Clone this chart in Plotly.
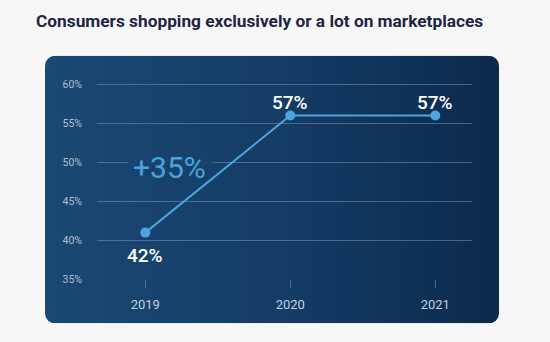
import base64
import plotly.graph_objects as go

# ---- data ----
years = [2019, 2020, 2021]
share_plotted = [41, 56, 56]          # position of points as drawn
share_labels = ["42%", "57%", "57%"]  # labels shown on the chart
label_side = ["below", "above", "above"]
y_ticks = [35, 40, 45, 50, 55, 60]
y_tick_text = ["35%", "40%", "45%", "50%", "55%", "60%"]
growth_text = "+35%"
title_text = "Consumers shopping exclusively or a lot on marketplaces"

W, H = 550, 342
LINE = "#4ba6e0"
GRID = "rgba(140,170,205,0.45)"

# dark rounded panel with a horizontal gradient
pw, ph = 454, 273
svg = (
    f'<svg xmlns="http://www.w3.org/2000/svg" width="{pw}" height="{ph}" viewBox="0 0 {pw} {ph}">'
    '<defs><linearGradient id="g" x1="0" y1="0" x2="1" y2="0">'
    '<stop offset="0" stop-color="#1b4874"/><stop offset="0.5" stop-color="#153d66"/>'
    '<stop offset="1" stop-color="#0b2a4c"/></linearGradient></defs>'
    f'<rect width="{pw}" height="{ph}" rx="10" ry="10" fill="url(#g)"/></svg>'
)
src = "data:image/svg+xml;base64," + base64.b64encode(svg.encode()).decode()

fig = go.Figure()
fig.add_trace(go.Scatter(
    x=years, y=share_plotted, mode="lines+markers",
    line=dict(color=LINE, width=2),
    marker=dict(color=LINE, size=10),
    hoverinfo="skip", showlegend=False,
))

annotations = []
for xv, yv, lab, side in zip(years, share_plotted, share_labels, label_side):
    annotations.append(dict(
        x=xv, y=yv, xref="x", yref="y", text=lab, showarrow=False,
        font=dict(family="Roboto", size=19, color="white", weight=500),
        yshift=-23 if side == "below" else 13,
    ))
annotations.append(dict(
    x=2019.17, y=49.3, xref="x", yref="y", text=growth_text, showarrow=False,
    font=dict(family="Roboto", size=30, color="#4aa3dc"),
))
annotations.append(dict(
    x=259 / W, y=1 - 21 / H, xref="paper", yref="paper", text=f"<b>{title_text}</b>",
    showarrow=False, font=dict(family="Roboto", size=17.3, color="#1e2541"),
    xanchor="center", yanchor="middle",
))

# small patch that interrupts the 50% gridline behind the "+35%" text
shapes = [dict(
    type="rect", xref="x", yref="y", layer="between",
    x0=2019 - (145.3 - 128) / 145, x1=2019 + (213 - 145.3) / 145,
    y0=49.6, y1=50.4, line=dict(width=0), fillcolor="#194470",
)]

x_left, x_right = 2019 - 48.3 / 145, 2021 + 36.7 / 145
fig.update_layout(
    width=W, height=H,
    margin=dict(l=0, r=0, t=0, b=0),
    paper_bgcolor="#f7f7f8",
    plot_bgcolor="rgba(0,0,0,0)",
    images=[dict(source=src, xref="paper", yref="paper",
                 x=45 / W, y=1 - 57 / H, sizex=pw / W, sizey=ph / H,
                 xanchor="left", yanchor="top", sizing="stretch", layer="below")],
    annotations=annotations,
    shapes=shapes,
    xaxis=dict(
        domain=[97 / W, 472 / W], range=[x_left, x_right],
        tickvals=years, ticktext=[str(y) for y in years],
        showgrid=False, zeroline=False,
        showline=False,
        ticks="outside", ticklen=8, tickwidth=1, tickcolor=GRID,
        ticklabelstandoff=5,
        tickfont=dict(family="Roboto", size=13, color="#c3d0e0"),
        fixedrange=True,
    ),
    yaxis=dict(
        domain=[(H - 285.3) / H, (H - 70.1) / H], range=[35, 62],
        tickvals=y_ticks, ticktext=y_tick_text,
        showgrid=True, gridcolor=GRID, gridwidth=1,
        zeroline=False, showline=False, ticks="",
        ticklabelstandoff=14,
        tickfont=dict(family="Roboto", size=10.5, color="#aebfd3"),
        fixedrange=True,
    ),
)

fig.write_html("out.html")
